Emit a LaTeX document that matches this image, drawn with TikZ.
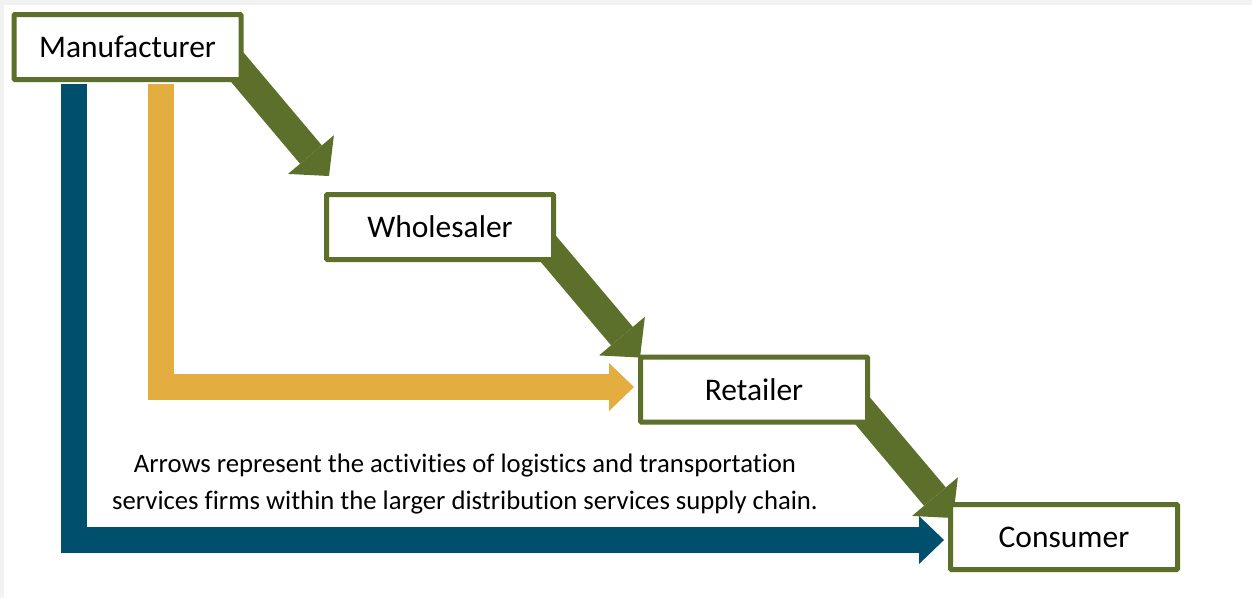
\documentclass[tikz,border=0pt]{standalone}
\usepackage{fontspec}
\setmainfont{Carlito}[Ligatures=NoCommon]
\usetikzlibrary{arrows.meta,calc}
\definecolor{gr}{HTML}{5C6F2B}
\definecolor{yl}{HTML}{E3AD40}
\definecolor{bl}{HTML}{00506D}
\definecolor{bgc}{HTML}{F2F2F2}
\begin{document}
\begin{tikzpicture}[x=1pt,y=-1pt,
  box/.style={draw=gr, line width=5pt, fill=white, minimum width=227pt, minimum height=65pt,
    inner sep=0pt, outer sep=0pt, font=\fontsize{31.5}{38}\selectfont, rounded corners=1pt},
  flow/.style={draw=gr, line width=28.5pt, -{Triangle[width=60pt,length=28pt,line width=0pt]}},
  direct/.style={line width=26pt, line join=miter, -{Triangle[width=48pt,length=25pt,line width=0pt]}}]
\useasboundingbox (0,0) rectangle (1252,598);
\fill[bgc] (0,0) rectangle (1252,598);
\fill[white] (4,5) rectangle (1252,598);
% nodes (placed first for anchors, redrawn on top later)
\path (127.5,47) coordinate (pm) (440,227) coordinate (pw) (754,389.5) coordinate (pr) (1064,537) coordinate (pc);
\node[box, draw=none, fill=none] (man) at (pm) {};
\node[box, draw=none, fill=none] (whs) at (pw) {};
\node[box, draw=none, fill=none] (ret) at (pr) {};
\node[box, draw=none, fill=none] (con) at (pc) {};
\coordinate (ystart) at (161,84);
\coordinate (bstart) at (74,84);
% direct channels
\draw[direct, draw=yl] (ystart) |- ($(ret.west)+(-6.5,-2.5)$);
\draw[direct, draw=bl] (bstart) |- ($(con.west)+(-6.5,3)$);
% traditional chain
\draw[flow] ($(man.south east)+(-8.5,-18)$) -- ($(whs.north west)+(2.5,-18.5)$);
\draw[flow] ($(whs.south east)+(-10.5,-17)$) -- ($(ret.north west)+(-0.5,0.5)$);
\draw[flow] ($(ret.south east)+(-11.5,-19)$) -- ($(con.north west)+(2.5,13.5)$);
% boxes on top
\node[box] (manufacturer) at (pm) {Manufacturer};
\node[box] (wholesaler) at (pw) {Wholesaler};
\node[box] (retailer) at (pr) {Retailer};
\node[box] (consumer) at (pc) {Consumer};
\node[font=\fontsize{26.7}{37.3}\selectfont, align=center, inner sep=0pt] (caption) at (465,484)
  {Arrows represent the activities of logistics and transportation\\services firms within the larger distribution services supply chain.};
\end{tikzpicture}
\end{document}
